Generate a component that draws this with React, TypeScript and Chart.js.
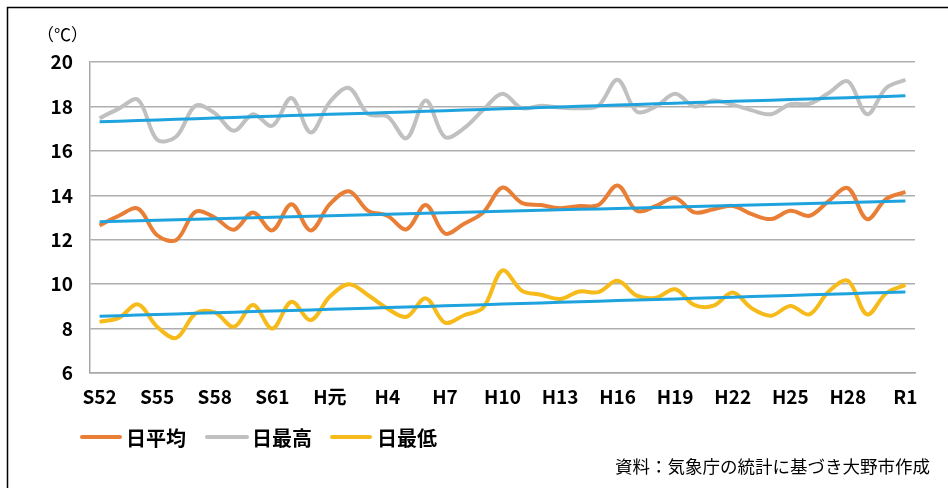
import { useEffect, useRef } from "react";
import { Chart, registerables } from "chart.js";

Chart.register(...registerables);

// Japanese era year labels, 1977 (S52) to 2019 (R1)
const years = [
  "S52", "S53", "S54", "S55", "S56", "S57", "S58", "S59", "S60", "S61", "S62", "S63",
  "H元", "H2", "H3", "H4", "H5", "H6", "H7", "H8", "H9", "H10", "H11", "H12", "H13",
  "H14", "H15", "H16", "H17", "H18", "H19", "H20", "H21", "H22", "H23", "H24", "H25",
  "H26", "H27", "H28", "H29", "H30", "R1",
];

const dailyMean = [
  12.64, 13.08, 13.4, 12.2, 11.99, 13.26, 13.0, 12.45, 13.23, 12.42, 13.6, 12.42,
  13.6, 14.18, 13.3, 13.08, 12.47, 13.56, 12.28, 12.72, 13.23, 14.35, 13.66, 13.56,
  13.42, 13.52, 13.56, 14.44, 13.3, 13.52, 13.88, 13.23, 13.37, 13.52, 13.15, 12.93,
  13.3, 13.08, 13.74, 14.32, 12.93, 13.84, 14.15,
];

const dailyMax = [
  17.47, 17.9, 18.3, 16.5, 16.65, 18.03, 17.7, 16.9, 17.65, 17.13, 18.38, 16.83,
  18.2, 18.83, 17.65, 17.55, 16.57, 18.27, 16.62, 17.02, 17.85, 18.57, 17.92, 18.03,
  17.95, 17.92, 18.03, 19.2, 17.77, 18.0, 18.57, 18.0, 18.27, 18.08, 17.82, 17.65,
  18.1, 18.12, 18.6, 19.13, 17.65, 18.83, 19.2,
];

const dailyMin = [
  8.3, 8.48, 9.09, 8.08, 7.58, 8.68, 8.73, 8.08, 9.06, 8.0, 9.21, 8.38,
  9.44, 10.0, 9.5, 8.9, 8.53, 9.36, 8.27, 8.6, 8.95, 10.62, 9.71, 9.52,
  9.33, 9.67, 9.64, 10.15, 9.48, 9.39, 9.77, 9.06, 9.03, 9.62, 8.91, 8.58,
  9.02, 8.64, 9.67, 10.15, 8.64, 9.59, 9.97,
];

const seriesNames = ["日平均", "日最高", "日最低"];
const seriesColors = ["#E97F36", "#C0C0C0", "#F6BB1A"];
const trendColor = "#1FA3DE";
const yMin = 6;
const yMax = 20;
const yStep = 2;
const unitLabel = "（℃）";
const sourceNote = "資料：気象庁の統計に基づき大野市作成";

// least-squares linear trend of a series (as Excel's trendline)
function linearTrend(values: number[]): number[] {
  const n = values.length;
  let sx = 0, sy = 0, sxx = 0, sxy = 0;
  values.forEach((v, i) => {
    sx += i; sy += v; sxx += i * i; sxy += i * v;
  });
  const b = (n * sxy - sx * sy) / (n * sxx - sx * sx);
  const a = (sy - b * sx) / n;
  return values.map((_, i) => a + b * i);
}

const FONT = "'Noto Sans CJK JP', 'Noto Sans', sans-serif";

const decorPlugin = {
  id: "decor",
  afterDraw(chart: any) {
    const ctx = chart.ctx as CanvasRenderingContext2D;
    ctx.save();
    // frame
    ctx.strokeStyle = "#000";
    ctx.lineWidth = 1.5;
    ctx.beginPath();
    ctx.moveTo(7.5, 488);
    ctx.lineTo(7.5, 7.5);
    ctx.lineTo(948, 7.5);
    ctx.stroke();

    // unit label
    ctx.fillStyle = "#000";
    ctx.font = `17px ${FONT}`;
    ctx.textAlign = "left";
    ctx.textBaseline = "middle";
    ctx.fillText(unitLabel, 37, 35);

    // legend
    const items = [
      { x1: 82, x2: 120, tx: 126 },
      { x1: 207, x2: 247, tx: 252 },
      { x1: 332, x2: 370, tx: 377 },
    ];
    const ly = 437;
    ctx.font = `bold 20px ${FONT}`;
    items.forEach((it, k) => {
      ctx.strokeStyle = seriesColors[k];
      ctx.lineWidth = 4;
      ctx.lineCap = "round";
      ctx.beginPath();
      ctx.moveTo(it.x1, ly);
      ctx.lineTo(it.x2, ly);
      ctx.stroke();
      ctx.fillStyle = "#000";
      ctx.fillText(seriesNames[k], it.tx, ly + 1);
    });

    // source note
    ctx.font = `17.5px ${FONT}`;
    ctx.textAlign = "right";
    ctx.fillText(sourceNote, 930, 466);
    ctx.restore();
  },
};

export default function App() {
  const ref = useRef<HTMLCanvasElement>(null);

  useEffect(() => {
    document.body.style.margin = "0";
    const canvas = ref.current;
    if (!canvas) return;
    const series = [dailyMean, dailyMax, dailyMin];
    const dataLines = series.map((vals, k) => ({
      label: seriesNames[k],
      data: vals,
      borderColor: seriesColors[k],
      backgroundColor: seriesColors[k],
      borderWidth: 4,
      pointRadius: 0,
      tension: 0.35,
      order: 2,
    }));
    const trendLines = series.map((vals, k) => ({
      label: seriesNames[k] + " 線形近似",
      data: linearTrend(vals),
      borderColor: trendColor,
      backgroundColor: trendColor,
      borderWidth: 3,
      pointRadius: 0,
      tension: 0,
      order: 1,
    }));

    const chart = new Chart(canvas, {
      type: "line",
      data: { labels: years, datasets: [...dataLines, ...trendLines] },
      options: {
        animation: false,
        responsive: false,
        layout: { padding: { top: 62, right: 33, bottom: 75, left: 0 } },
        plugins: { legend: { display: false }, tooltip: { enabled: false } },
        scales: {
          x: {
            type: "category",
            offset: true,
            grid: { display: false },
            border: { display: true, color: "#A8A8A8", width: 1.5 },
            ticks: {
              autoSkip: false,
              maxRotation: 0,
              padding: 4,
              color: "#000",
              font: { family: FONT, size: 19, weight: "bold" },
              callback: (_v: any, i: number) => (i % 3 === 0 ? years[i] : ""),
            },
            afterFit: (s: any) => { s.height = 40; },
          },
          y: {
            min: yMin,
            max: yMax,
            grid: { color: "#AEAEAE", lineWidth: 1.5, drawTicks: false },
            border: { display: true, color: "#A8A8A8", width: 1.5 },
            ticks: {
              stepSize: yStep,
              padding: 17,
              color: "#000",
              font: { family: FONT, size: 19, weight: "bold" },
            },
            afterFit: (s: any) => { s.width = 90; },
          },
        },
      },
      plugins: [decorPlugin],
    });
    return () => chart.destroy();
  }, []);

  return (
    <div style={{ width: 948, height: 488, background: "#fff" }}>
      <canvas ref={ref} width={948} height={488} style={{ display: "block" }} />
    </div>
  );
}
